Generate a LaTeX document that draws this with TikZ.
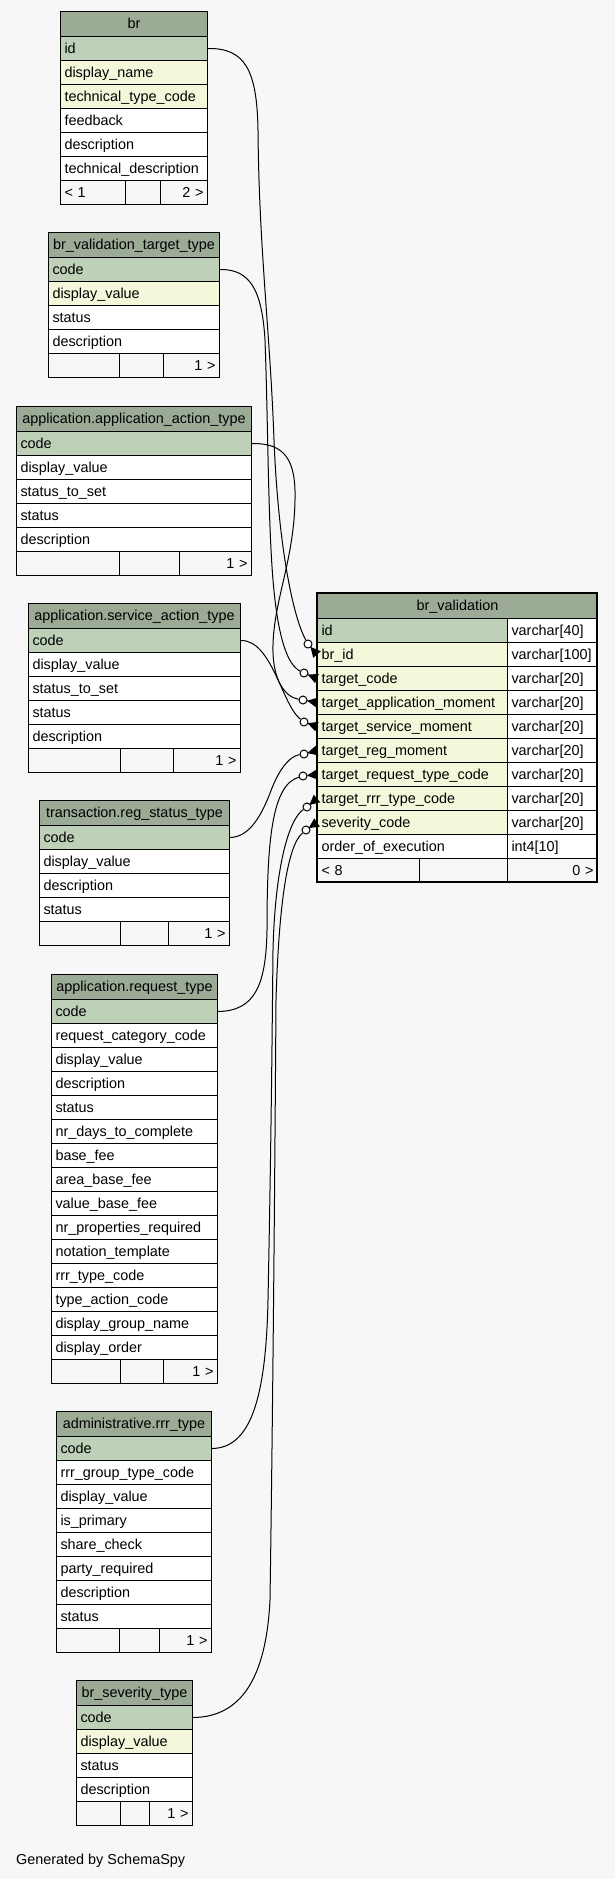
\documentclass[tikz,border=0pt]{standalone}
\usepackage{fontspec}
\setmainfont{Liberation Sans}
\usetikzlibrary{calc}
\definecolor{bgc}{HTML}{F7F7F7}
\definecolor{hdrc}{HTML}{9BAB96}
\definecolor{pkc}{HTML}{BED1B8}
\definecolor{ixc}{HTML}{F4F7DA}
\newcommand\tblfont{\fontsize{14.4}{16}\selectfont}
\tikzset{
  cellbase/.style={draw=black, line width=1pt, anchor=north west, inner xsep=4pt, inner ysep=0pt, minimum height=24pt, text height=12.4pt, text depth=3pt, font=\tblfont},
  hdr/.style={cellbase, fill=hdrc, minimum height=25pt, align=center},
  cell/.style={cellbase, align=left},
  ftl/.style={cellbase, fill=bgc, align=left},
  ftr/.style={cellbase, fill=bgc, align=right},
  edge/.style={draw=black, line width=1pt},
  odot/.style={circle, draw=black, fill=white, line width=1pt, minimum size=8pt, inner sep=0pt},
}
\begin{document}
\begin{tikzpicture}[x=1pt,y=-1pt]
\useasboundingbox (0,0) rectangle (615,1879);
\fill[bgc] (0,0) rectangle (615,1879);

% ---------- br ----------
\node[hdr, text width=139pt] (br-h) at (60,11) {br};
\foreach \c/\n/\t [count=\k from 0] in {pkc/id/id, ixc/dn/display\_name, ixc/ttc/technical\_type\_code, white/fb/feedback, white/ds/description, white/td/technical\_description}
  \node[cell, fill=\c, text width=139pt] (br-\n) at (60,{36+24*\k}) {\t};
\node[ftl, text width=57pt] (br-f1) at (60,180) {< 1};
\node[ftl, text width=27pt] (br-f2) at (125,180) {};
\node[ftr, text width=39pt] (br-f3) at (160,180) {2 >};

% ---------- br_validation_target_type ----------
\node[hdr, text width=163pt] (vt-h) at (48,232) {br\_validation\_target\_type};
\foreach \c/\n/\t [count=\k from 0] in {pkc/code/code, ixc/dv/display\_value, white/st/status, white/ds/description}
  \node[cell, fill=\c, text width=163pt] (vt-\n) at (48,{257+24*\k}) {\t};
\node[ftl, text width=63pt] (vt-f1) at (48,353) {};
\node[ftl, text width=36pt] (vt-f2) at (119,353) {};
\node[ftr, text width=48pt] (vt-f3) at (163,353) {1 >};

% ---------- application.application_action_type ----------
\node[hdr, text width=227pt] (aa-h) at (16,406) {application.application\_action\_type};
\foreach \c/\n/\t [count=\k from 0] in {pkc/code/code, white/dv/display\_value, white/sts/status\_to\_set, white/st/status, white/ds/description}
  \node[cell, fill=\c, text width=227pt] (aa-\n) at (16,{431+24*\k}) {\t};
\node[ftl, text width=95pt] (aa-f1) at (16,551) {};
\node[ftl, text width=52pt] (aa-f2) at (119,551) {};
\node[ftr, text width=64pt] (aa-f3) at (179,551) {1 >};

% ---------- application.service_action_type ----------
\node[hdr, text width=204pt] (sa-h) at (28,603) {application.service\_action\_type};
\foreach \c/\n/\t [count=\k from 0] in {pkc/code/code, white/dv/display\_value, white/sts/status\_to\_set, white/st/status, white/ds/description}
  \node[cell, fill=\c, text width=204pt] (sa-\n) at (28,{628+24*\k}) {\t};
\node[ftl, text width=84pt] (sa-f1) at (28,748) {};
\node[ftl, text width=45pt] (sa-f2) at (120,748) {};
\node[ftr, text width=59pt] (sa-f3) at (173,748) {1 >};

% ---------- transaction.reg_status_type ----------
\node[hdr, text width=182pt] (rs-h) at (39,800) {transaction.reg\_status\_type};
\foreach \c/\n/\t [count=\k from 0] in {pkc/code/code, white/dv/display\_value, white/ds/description, white/st/status}
  \node[cell, fill=\c, text width=182pt] (rs-\n) at (39,{825+24*\k}) {\t};
\node[ftl, text width=73pt] (rs-f1) at (39,921) {};
\node[ftl, text width=40pt] (rs-f2) at (120,921) {};
\node[ftr, text width=53pt] (rs-f3) at (168,921) {1 >};

% ---------- application.request_type ----------
\node[hdr, text width=158pt] (rt-h) at (51,974) {application.request\_type};
\foreach \c/\n/\t [count=\k from 0] in {pkc/code/code, white/rcc/request\_category\_code, white/dv/display\_value, white/ds/description, white/st/status, white/ndc/nr\_days\_to\_complete, white/bf/base\_fee, white/abf/area\_base\_fee, white/vbf/value\_base\_fee, white/npr/nr\_properties\_required, white/nt/notation\_template, white/rtc/rrr\_type\_code, white/tac/type\_action\_code, white/dgn/display\_group\_name, white/do/display\_order}
  \node[cell, fill=\c, text width=158pt] (rt-\n) at (51,{999+24*\k}) {\t};
\node[ftl, text width=61pt] (rt-f1) at (51,1359) {};
\node[ftl, text width=35pt] (rt-f2) at (120,1359) {};
\node[ftr, text width=46pt] (rt-f3) at (163,1359) {1 >};

% ---------- administrative.rrr_type ----------
\node[hdr, text width=147pt] (rr-h) at (56,1411) {administrative.rrr\_type};
\foreach \c/\n/\t [count=\k from 0] in {pkc/code/code, white/rgtc/rrr\_group\_type\_code, white/dv/display\_value, white/ip/is\_primary, white/sc/share\_check, white/pr/party\_required, white/ds/description, white/st/status}
  \node[cell, fill=\c, text width=147pt] (rr-\n) at (56,{1436+24*\k}) {\t};
\node[ftl, text width=55pt] (rr-f1) at (56,1628) {};
\node[ftl, text width=32pt] (rr-f2) at (119,1628) {};
\node[ftr, text width=44pt] (rr-f3) at (159,1628) {1 >};

% ---------- br_severity_type ----------
\node[hdr, text width=108pt] (sv-h) at (76,1680) {br\_severity\_type};
\foreach \c/\n/\t [count=\k from 0] in {pkc/code/code, ixc/dv/display\_value, white/st/status, white/ds/description}
  \node[cell, fill=\c, text width=108pt] (sv-\n) at (76,{1705+24*\k}) {\t};
\node[ftl, text width=36pt] (sv-f1) at (76,1801) {};
\node[ftl, text width=21pt] (sv-f2) at (120,1801) {};
\node[ftr, text width=35pt] (sv-f3) at (149,1801) {1 >};

% ---------- br_validation ----------
\node[hdr, text width=272pt] (bv-h) at (317,593) {br\_validation};
\foreach \c/\n/\t [count=\k from 0] in {pkc/id/id, ixc/brid/br\_id, ixc/tc/target\_code, ixc/tam/target\_application\_moment, ixc/tsm/target\_service\_moment, ixc/trm/target\_reg\_moment, ixc/trt/target\_request\_type\_code, ixc/trr/target\_rrr\_type\_code, ixc/sc/severity\_code, white/oe/order\_of\_execution}
  \node[cell, fill=\c, text width=182pt] (bv-\n) at (317,{618+24*\k}) {\t};
\foreach \t [count=\k from 0] in {varchar[40], varchar[100], varchar[20], varchar[20], varchar[20], varchar[20], varchar[20], varchar[20], varchar[20], int4[10]}
  \node[cell, fill=white, text width=82pt] (bv-ty\k) at (507,{618+24*\k}) {\t};
\node[ftl, text width=94pt] (bv-f1) at (317,858) {< 8};
\node[ftl, text width=80pt] (bv-f2) at (419,858) {};
\node[ftr, text width=82pt] (bv-f3) at (507,858) {0 >};
\draw[line width=2.6pt] (317,593) rectangle (597,882);

% ---------- connectors ----------
\node[odot] (c1) at (308,644) {};
\node[odot] (c2) at (304,673) {};
\node[odot] (c3) at (303,700) {};
\node[odot] (c4) at (304,722) {};
\node[odot] (c5) at (304,754) {};
\node[odot] (c6) at (303,776) {};
\node[odot] (c7) at (307,807) {};
\node[odot] (c8) at (306,830) {};

\draw[edge] (br-id.east) .. controls (245,48) and (257,70) .. (258,130)
  .. controls (259,250) and (270,330) .. (274,440)
  .. controls (278,540) and (292,615) .. (c1);
\draw[edge] (vt-code.east) .. controls (250,269) and (262,290) .. (265,340)
  .. controls (268,420) and (268,520) .. (273,580)
  .. controls (278,640) and (288,665) .. (c2);
\draw[edge] (aa-code.east) .. controls (285,443) and (296,460) .. (295,500)
  .. controls (294,560) and (274,600) .. (273,645)
  .. controls (272,680) and (285,697) .. (c3);
\draw[edge] (sa-code.east) .. controls (272,640) and (282,705) .. (c4);
\draw[edge] (rs-code.east) .. controls (250,837) and (262,815) .. (272,788)
  .. controls (280,768) and (290,756) .. (c5);
\draw[edge] (rt-code.east) .. controls (255,1011) and (266,985) .. (267,930)
  .. controls (267,840) and (272,785) .. (c6);
\draw[edge] (rr-code.east) .. controls (250,1448) and (266,1400) .. (268,1300)
  .. controls (271,1150) and (272,1050) .. (273,950)
  .. controls (275,870) and (288,820) .. (c7);
\draw[edge] (sv-code.east) .. controls (240,1717) and (266,1680) .. (270,1600)
  .. controls (273,1400) and (275,1150) .. (276,1000)
  .. controls (279,900) and (288,845) .. (c8);

\foreach \p/\c in {brid/c1, tc/c2, tam/c3, tsm/c4, trm/c5, trt/c6, trr/c7, sc/c8} {
  \draw[edge] (\c) -- (bv-\p.west);
  \fill[black] ($(bv-\p.west)!5pt!90:(\c)$) -- ($(bv-\p.west)!10pt!(\c)$) -- ($(bv-\p.west)!5pt!-90:(\c)$) -- cycle;
}

\node[anchor=base west, font=\tblfont, inner sep=0pt] (gen) at (16,1864) {Generated by SchemaSpy};
\end{tikzpicture}
\end{document}
